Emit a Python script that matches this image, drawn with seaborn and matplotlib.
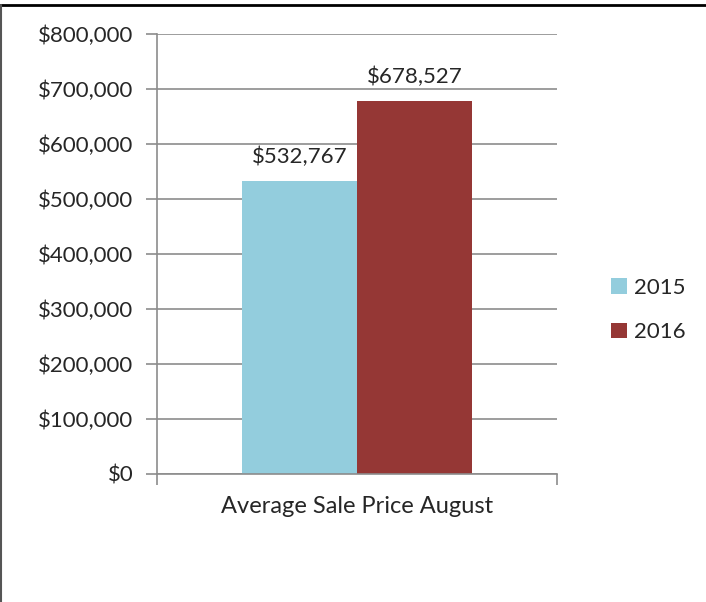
import pandas as pd
import matplotlib.pyplot as plt
import seaborn as sns
from matplotlib.ticker import FuncFormatter
from matplotlib.lines import Line2D

# chart values
category = ['Average Sale Price August']
years = ['2015', '2016']
prices = [532767, 678527]
colors = ['#93CDDD', '#953735']

df = pd.DataFrame({'Category': category * 2, 'Year': years, 'Price': prices})

sns.set_style("white")
plt.rcParams['font.family'] = ['Lato', 'DejaVu Sans']

fig = plt.figure(figsize=(7.06, 6.02), dpi=100)
ax = fig.add_axes([157 / 706, 128 / 602, 400 / 706, 440 / 602])

sns.barplot(data=df, x='Category', y='Price', hue='Year', palette=colors,
            width=0.575, saturation=1, linewidth=0, ax=ax, legend=True)

ax.set_ylim(0, 800000)
ax.set_xlim(-0.5, 0.5)
ax.set_yticks(range(0, 800001, 100000))
ax.yaxis.set_major_formatter(FuncFormatter(lambda v, p: f'${v:,.0f}'))
ax.grid(axis='y', color='#8c8c8c', linewidth=1.2)
ax.set_axisbelow(True)
ax.set_xlabel('')
ax.set_ylabel('')

for s in ['top', 'right']:
    ax.spines[s].set_visible(False)
for s in ['left', 'bottom']:
    ax.spines[s].set_color('#8c8c8c')
    ax.spines[s].set_linewidth(1.2)

ax.tick_params(axis='y', which='major', left=True, length=8, width=1.2,
               color='#8c8c8c', labelsize=16, pad=9)
ax.tick_params(axis='x', which='major', bottom=False, labelsize=17, pad=12)
ax.set_xticks([-0.5, 0.5], minor=True)
ax.tick_params(axis='x', which='minor', bottom=True, length=8, width=1.2,
               color='#8c8c8c')

# value labels
for container in ax.containers:
    ax.bar_label(container, labels=[f'${v:,.0f}' for v in container.datavalues],
                 fontsize=16, padding=10)

handles, labels = ax.get_legend_handles_labels()
ax.legend(handles, labels, loc='center left', bbox_to_anchor=(1.085, 0.373),
          frameon=False, fontsize=16, handlelength=0.7, handleheight=0.7,
          handletextpad=0.35, labelspacing=1.1)

# outer border (top and left)
fig.add_artist(Line2D([0, 1], [1 - 5 / 602, 1 - 5 / 602], color='black',
                      linewidth=2, transform=fig.transFigure))
fig.add_artist(Line2D([1 / 706, 1 / 706], [0, 1 - 5 / 602], color='#555555',
                      linewidth=1.5, transform=fig.transFigure))

fig.savefig('out.png', dpi=100)
